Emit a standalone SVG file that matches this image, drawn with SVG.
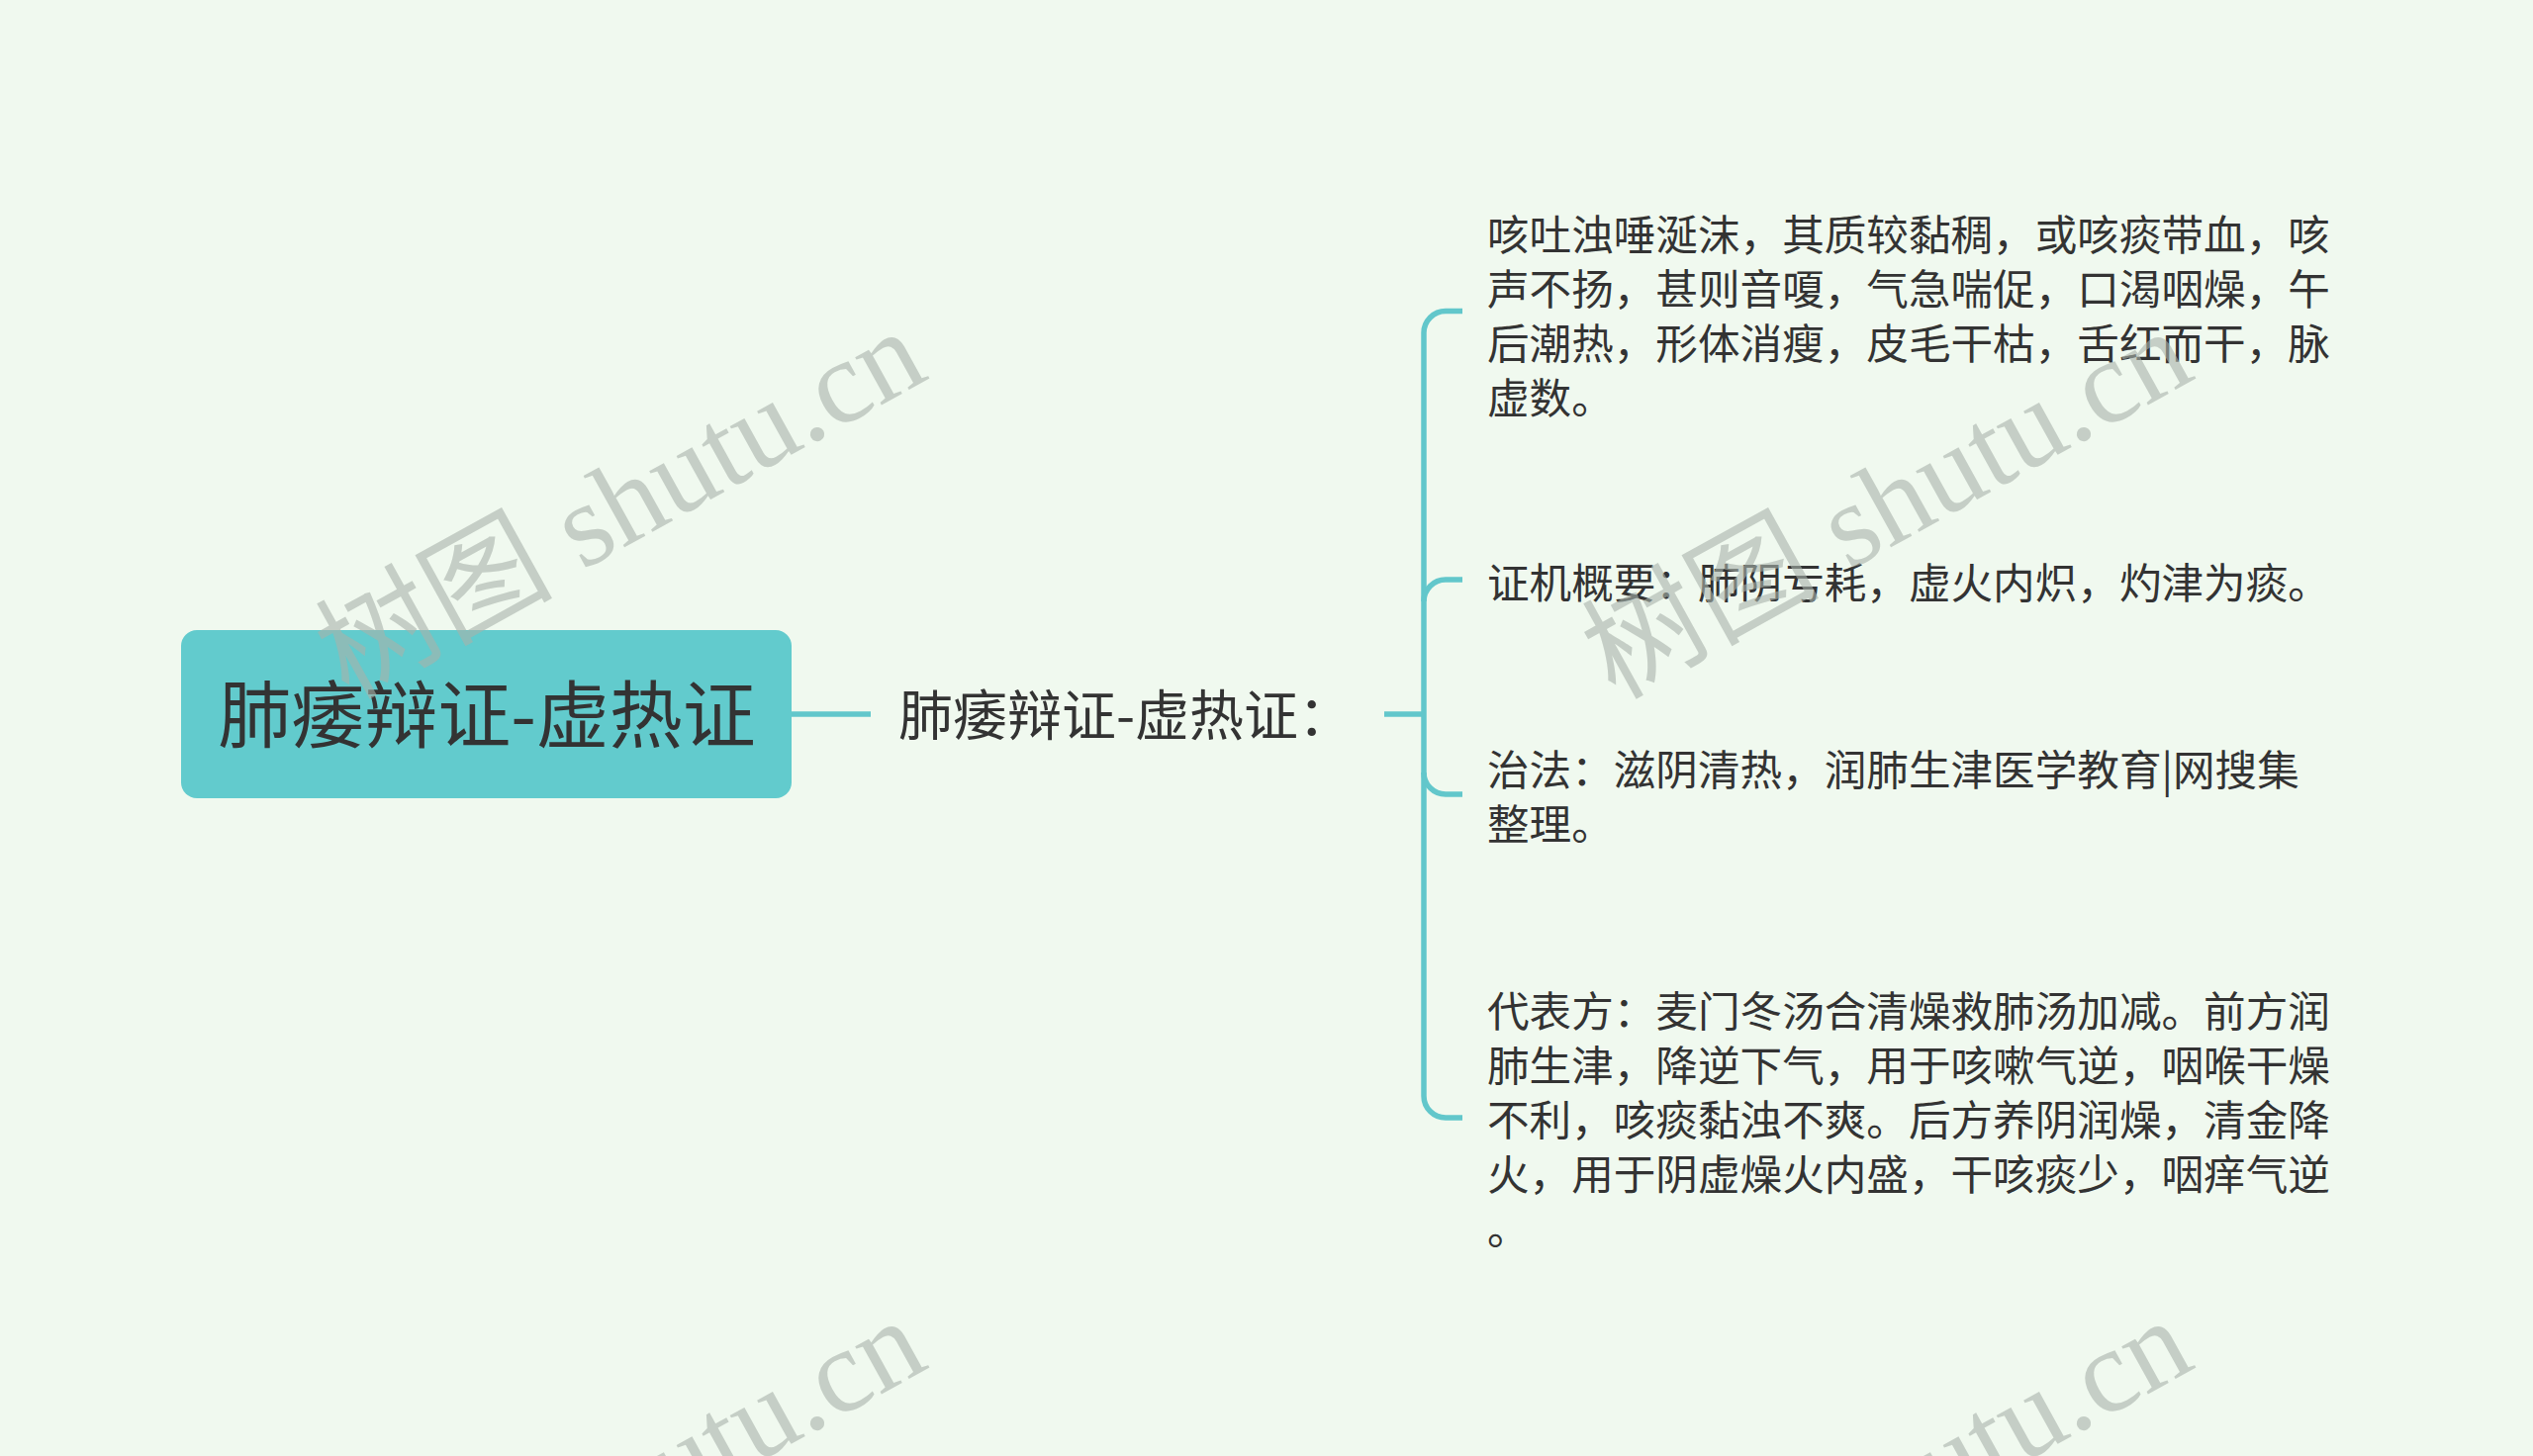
<svg xmlns="http://www.w3.org/2000/svg" xmlns:xlink="http://www.w3.org/1999/xlink" width="2560" height="1472" viewBox="0 0 2560 1472">
<style>
.bg{fill:#f0f9ef}
.root{fill:#62cbcd}
.conn{fill:none;stroke:#62c7cb;stroke-width:5.5;stroke-linecap:butt}
.t{font-family:"Noto Sans CJK SC","Noto Sans",sans-serif;fill:#333333}
.t0{font-size:74px}
.t1{font-size:55px}
.t2{font-size:42.6px}
.wm{font-family:"Liberation Serif","Noto Sans CJK SC",serif;font-size:120px;fill:#a9b3ab;opacity:0.6}
</style>
<defs>
<text id="wmt" class="wm" x="0" y="0">树图 shutu.cn</text>
</defs>
<rect class="bg" x="0" y="0" width="2560" height="1472"/>
<g id="connectors">
<path class="conn" d="M800,722 L880,722"/>
<path class="conn" d="M1399,722 L1439,722"/>
<path class="conn" d="M1478,314.5 L1461,314.5 A22,22 0 0 0 1439,336.5 L1439,1108 A22,22 0 0 0 1461,1130 L1478,1130"/>
<path class="conn" d="M1439,608 A22,22 0 0 1 1461,586 L1478,586"/>
<path class="conn" d="M1439,781 A22,22 0 0 0 1461,803 L1478,803"/>
</g>
<g id="node-root">
<rect class="root" x="183" y="637" width="617" height="170" rx="16" ry="16"/>
<text class="t t0" x="492" y="750" text-anchor="middle">肺痿辩证-虚热证</text>
</g>
<g id="node-main">
<text class="t t1" x="908" y="743">肺痿辩证-虚热证：</text>
</g>
<g id="node-symptoms">
<text class="t t2" x="1503" y="253">咳吐浊唾涎沫，其质较黏稠，或咳痰带血，咳</text>
<text class="t t2" x="1503" y="308">声不扬，甚则音嗄，气急喘促，口渴咽燥，午</text>
<text class="t t2" x="1503" y="363">后潮热，形体消瘦，皮毛干枯，舌红而干，脉</text>
<text class="t t2" x="1503" y="418">虚数。</text>
</g>
<g id="node-mechanism">
<text class="t t2" x="1503" y="605">证机概要：肺阴亏耗，虚火内炽，灼津为痰。</text>
</g>
<g id="node-treatment">
<text class="t t2" x="1503" y="793.5">治法：滋阴清热，润肺生津医学教育|网搜集</text>
<text class="t t2" x="1503" y="848.5">整理。</text>
</g>
<g id="node-formula">
<text class="t t2" x="1503" y="1038">代表方：麦门冬汤合清燥救肺汤加减。前方润</text>
<text class="t t2" x="1503" y="1093">肺生津，降逆下气，用于咳嗽气逆，咽喉干燥</text>
<text class="t t2" x="1503" y="1148">不利，咳痰黏浊不爽。后方养阴润燥，清金降</text>
<text class="t t2" x="1503" y="1203">火，用于阴虚燥火内盛，干咳痰少，咽痒气逆</text>
<text class="t t2" x="1503" y="1258">。</text>
</g>
<g id="watermarks">
<use xlink:href="#wmt" transform="translate(352,708) rotate(-29)"/>
<use xlink:href="#wmt" transform="translate(1632,708) rotate(-29)"/>
<use xlink:href="#wmt" transform="translate(352,1708) rotate(-29)"/>
<use xlink:href="#wmt" transform="translate(1632,1708) rotate(-29)"/>
</g>
</svg>
